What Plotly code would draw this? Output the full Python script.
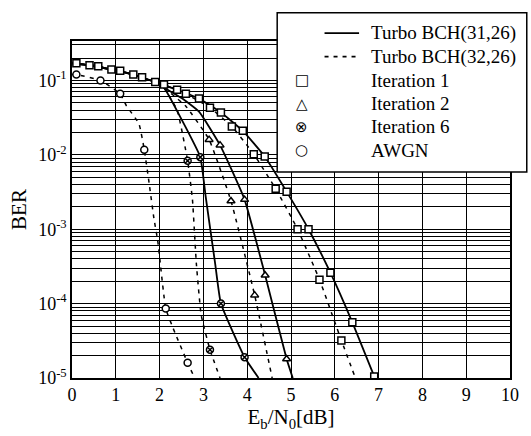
import plotly.graph_objects as go

# ---------------- data ----------------
# Turbo BCH(31,26) - solid curves
sol_it1_x = [0, 0.4, 0.9, 1.4, 1.9, 2.4, 2.9, 3.4, 3.9, 4.4, 4.9, 5.4, 5.9, 6.4, 6.9]
sol_it1_y = [0.17, 0.16, 0.14, 0.12, 0.095, 0.075, 0.057, 0.037, 0.021, 0.0095, 0.0032, 1.0e-3, 2.6e-4, 5.6e-5, 1.05e-5]
sol_it1_mx = [0.4, 0.9, 1.4, 1.9, 2.4, 2.9, 3.4, 3.9, 4.4, 4.9, 5.4, 5.9, 6.4, 6.9]
sol_it1_my = [0.16, 0.14, 0.12, 0.095, 0.075, 0.057, 0.037, 0.021, 0.0095, 0.0032, 1.0e-3, 2.6e-4, 5.6e-5, 1.05e-5]

sol_it2_x = [0, 0.4, 0.9, 1.4, 1.9, 2.1, 2.5, 2.9, 3.38, 3.94, 4.41, 4.9, 5.04]
sol_it2_y = [0.17, 0.16, 0.14, 0.12, 0.095, 0.08, 0.058, 0.038, 0.0135, 2.5e-3, 2.4e-4, 1.8e-5, 1e-5]
sol_it2_mx = [3.38, 3.94, 4.41, 4.9]
sol_it2_my = [0.0135, 2.5e-3, 2.4e-4, 1.8e-5]

sol_it6_x = [0, 0.4, 0.9, 1.4, 1.9, 2.1, 2.5, 2.93, 3.05, 3.27, 3.4, 3.94, 4.26]
sol_it6_y = [0.17, 0.16, 0.14, 0.12, 0.095, 0.08, 0.03, 9.3e-3, 2.8e-3, 3.4e-4, 1.0e-4, 1.9e-5, 1e-5]
sol_it6_mx = [2.93, 3.4, 3.94]
sol_it6_my = [9.3e-3, 1.0e-4, 1.9e-5]

# Turbo BCH(32,26) - dashed curves
dsh_it1_x = [0, 0.1, 0.6, 1.1, 1.6, 2.1, 2.6, 3.15, 3.65, 4.15, 4.65, 5.15, 5.65, 6.15, 6.47]
dsh_it1_y = [0.17, 0.17, 0.155, 0.135, 0.11, 0.088, 0.066, 0.043, 0.024, 0.0102, 0.0035, 1.0e-3, 2.1e-4, 3.2e-5, 1e-5]
dsh_it1_mx = [0.1, 0.6, 1.1, 1.6, 2.1, 2.6, 3.15, 3.65, 4.15, 4.65, 5.15, 5.65, 6.15]
dsh_it1_my = [0.17, 0.155, 0.135, 0.11, 0.088, 0.066, 0.043, 0.024, 0.0102, 0.0035, 1.0e-3, 2.1e-4, 3.2e-5]

dsh_it2_x = [2.1, 2.6, 3.13, 3.63, 4.17, 4.57]
dsh_it2_y = [0.08, 0.045, 0.016, 2.4e-3, 1.3e-4, 1e-5]
dsh_it2_mx = [3.13, 3.63, 4.17]
dsh_it2_my = [0.016, 2.4e-3, 1.3e-4]

dsh_it6_x = [2.1, 2.4, 2.64, 2.75, 2.84, 2.95, 3.15, 3.38]
dsh_it6_y = [0.08, 0.04, 8.3e-3, 2.5e-3, 3.4e-4, 7e-5, 2.4e-5, 1e-5]
dsh_it6_mx = [2.64, 3.15]
dsh_it6_my = [8.3e-3, 2.4e-5]

# AWGN
awgn_x = [0, 0.1, 0.65, 1.1, 1.24, 1.53, 1.65, 1.76, 1.87, 1.96, 2.14, 2.3, 2.64, 2.8]
awgn_y = [0.12, 0.12, 0.10, 0.066, 0.046, 0.026, 0.0117, 4.2e-3, 1.4e-3, 6.8e-4, 8.6e-5, 4.8e-5, 1.6e-5, 1e-5]
awgn_mx = [0.1, 0.65, 1.1, 1.65, 2.14, 2.64]
awgn_my = [0.12, 0.10, 0.066, 0.0117, 8.6e-5, 1.6e-5]

x_ticks = [0, 1, 2, 3, 4, 5, 6, 7, 8, 9, 10]
y_ticks = [1e-5, 1e-4, 1e-3, 1e-2, 1e-1]
y_ticktext = ["10<sup>-5</sup>", "10<sup>-4</sup>", "10<sup>-3</sup>", "10<sup>-2</sup>", "10<sup>-1</sup>"]

legend_labels = ["Turbo BCH(31,26)", "Turbo BCH(32,26)", "Iteration 1", "Iteration 2", "Iteration 6", "AWGN"]
legend_glyphs = ["", "", "\u25A1", "\u25B3", "\u2297", "\u25CB"]

SERIF = "Liberation Serif"
DASH = "4px,5px"

fig = go.Figure()

def add_line(x, y, dash):
    fig.add_trace(go.Scatter(x=x, y=y, mode="lines",
                             line=dict(color="black", width=1.8 if dash == "solid" else 1.5, dash=dash,
                                       shape="spline", smoothing=0.4),
                             showlegend=False, hoverinfo="skip"))

def add_marks(x, y, symbol):
    fig.add_trace(go.Scatter(x=x, y=y, mode="markers",
                             marker=dict(symbol=symbol, size=7, color="white",
                                         line=dict(color="black", width=1.5)),
                             showlegend=False, hoverinfo="skip"))

add_line(awgn_x, awgn_y, DASH)
add_line(dsh_it1_x, dsh_it1_y, DASH)
add_line(dsh_it2_x, dsh_it2_y, DASH)
add_line(dsh_it6_x, dsh_it6_y, DASH)
add_line(sol_it1_x, sol_it1_y, "solid")
add_line(sol_it2_x, sol_it2_y, "solid")
add_line(sol_it6_x, sol_it6_y, "solid")

add_marks(awgn_mx, awgn_my, "circle")
add_marks(dsh_it1_mx, dsh_it1_my, "square")
add_marks(sol_it1_mx, sol_it1_my, "square")
add_marks(dsh_it2_mx, dsh_it2_my, "triangle-up")
add_marks(sol_it2_mx, sol_it2_my, "triangle-up")
add_marks(dsh_it6_mx, dsh_it6_my, "circle-x")
add_marks(sol_it6_mx, sol_it6_my, "circle-x")

W, H = 531, 436
L, R, T, B = 72, 15, 41, 50
pw, ph = W - L - R, H - T - B

def px2paper_x(px):
    return (px - L) / pw

def py2paper_y(py):
    return (H - B - py) / ph

shapes = [dict(type="rect", xref="paper", yref="paper",
               x0=px2paper_x(280), x1=px2paper_x(533), y0=py2paper_y(175), y1=py2paper_y(12),
               fillcolor="white", line=dict(color="black", width=1.5), layer="above")]
annotations = []
rows = [33, 57, 81, 105, 129, 153]
for i, (lab, g) in enumerate(zip(legend_labels, legend_glyphs)):
    yy = py2paper_y(rows[i])
    if i < 2:
        shapes.append(dict(type="line", xref="paper", yref="paper",
                           x0=px2paper_x(328), x1=px2paper_x(363), y0=yy, y1=yy,
                           line=dict(color="black", width=1.8, dash="solid" if i == 0 else "4px,5px"),
                           layer="above"))
    else:
        annotations.append(dict(text=g, xref="paper", yref="paper", x=px2paper_x(305), y=yy,
                                showarrow=False, xanchor="center", yanchor="middle",
                                font=dict(family="DejaVu Sans", size=15, color="black")))
    annotations.append(dict(text=lab, xref="paper", yref="paper", x=px2paper_x(373), y=yy,
                            showarrow=False, xanchor="left", yanchor="middle",
                            font=dict(family=SERIF, size=19, color="black")))

fig.update_layout(
    width=W, height=H,
    margin=dict(l=L, r=R, t=T, b=B, pad=0),
    paper_bgcolor="white", plot_bgcolor="white",
    font=dict(family=SERIF, size=18, color="black"),
    shapes=shapes, annotations=annotations,
    showlegend=False,
)
fig.update_xaxes(range=[0, 10], tickvals=x_ticks, ticktext=[str(v) for v in x_ticks],
                 showgrid=True, gridcolor="black", gridwidth=1,
                 showline=True, linecolor="black", linewidth=1.5, mirror=True,
                 ticks="", zeroline=False,
                 tickfont=dict(family=SERIF, size=18),
                 title=dict(text="E<sub>b</sub>/N<sub>0</sub>[dB]", font=dict(family=SERIF, size=21), standoff=4))
fig.update_yaxes(type="log", range=[-5, -0.47], tickvals=y_ticks, ticktext=y_ticktext,
                 showgrid=True, gridcolor="black", gridwidth=1.2,
                 minor=dict(dtick="D1", showgrid=True, gridcolor="black", gridwidth=0.8, ticks=""),
                 showline=True, linecolor="black", linewidth=1.5, mirror=True,
                 ticks="", zeroline=False,
                 tickfont=dict(family=SERIF, size=18),
                 title=dict(text="BER", font=dict(family=SERIF, size=21), standoff=6))

fig.write_html("out.html")
